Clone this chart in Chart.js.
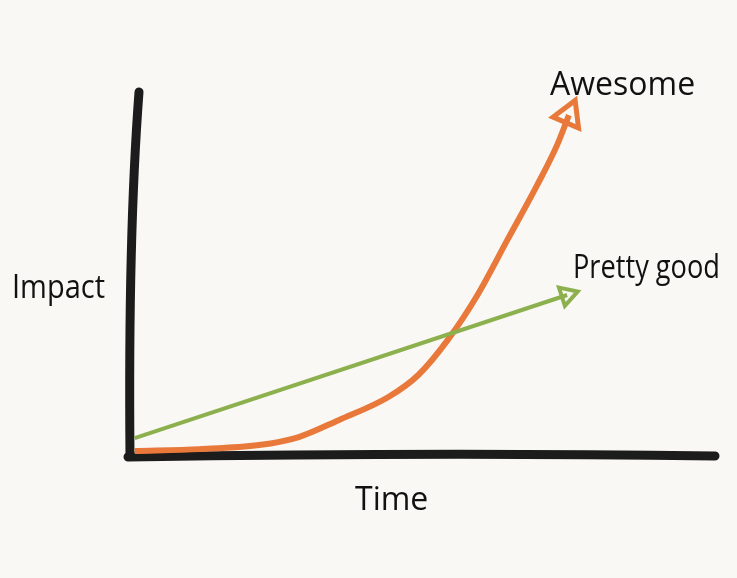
<!DOCTYPE html>
<html>
<head>
<meta charset="utf-8">
<script src="https://cdn.jsdelivr.net/npm/chart.js@4"></script>
<style>
  html, body { margin: 0; padding: 0; background: #f9f8f4; }
  #wrap { width: 737px; height: 578px; position: relative; }
</style>
</head>
<body>
<div id="wrap"><canvas id="c" width="737" height="578"></canvas></div>
<script>
// Data (normalized 0-100 on both axes)
const awesomeX = [0.8, 11.9, 22.0, 28.8, 35.6, 44.1, 49.2, 54.2, 59.3, 64.4, 69.5, 72.9, 74.9];
const awesomeY = [1.1, 1.6, 2.7, 4.9, 9.5, 15.8, 21.8, 31.3, 43.6, 58.6, 73.6, 84.5, 92.6];
const goodX = [0.8, 74.6];
const goodY = [4.6, 43.6];
const labels = { x: 'Time', y: 'Impact', awesome: 'Awesome', good: 'Pretty good' };

const toPts = (xs, ys) => xs.map((x, i) => ({ x: x, y: ys[i] }));
const lastOnly = (n, r) => Array.from({ length: n }, (_, i) => i === n - 1 ? r : 0);

const FONT = '"Open Sans", "Noto Sans", sans-serif';

const sketchPlugin = {
  id: 'sketch',
  beforeDatasetsDraw(chart) {
    const { ctx, chartArea: a } = chart;
    ctx.save();
    ctx.strokeStyle = '#1c1c1c';
    ctx.lineCap = 'round';
    ctx.lineWidth = 9;
    // y axis
    ctx.beginPath();
    ctx.moveTo(a.left + 9, a.top + 4);
    ctx.quadraticCurveTo(a.left - 2, a.top + 150, a.left, a.bottom + 1);
    ctx.stroke();
    // x axis
    ctx.beginPath();
    ctx.moveTo(a.left - 2, a.bottom + 2);
    ctx.quadraticCurveTo(a.left + 300, a.bottom - 3, a.right - 1, a.bottom + 1);
    ctx.stroke();
    ctx.restore();
  },
  afterDraw(chart) {
    const { ctx } = chart;
    ctx.save();
    ctx.fillStyle = '#111';
    ctx.font = '32px ' + FONT;
    ctx.textAlign = 'left';
    ctx.textBaseline = 'alphabetic';
    ctx.fillText(labels.y, 12, 298, 93);
    ctx.fillText(labels.x, 355, 510, 75);
    ctx.fillText(labels.awesome, 550, 95, 148);
    ctx.fillText(labels.good, 573, 278, 147);
    ctx.restore();
  }
};

new Chart(document.getElementById('c'), {
  type: 'line',
  data: {
    datasets: [
      {
        label: labels.good,
        data: toPts(goodX, goodY),
        borderColor: '#8cb04e',
        borderWidth: 4,
        pointRadius: lastOnly(goodX.length, 11),
        pointStyle: 'triangle',
        rotation: 72,
        pointBorderColor: '#8cb04e',
        pointBackgroundColor: 'rgba(0,0,0,0)',
        pointBorderWidth: 4,
        fill: false
      },
      {
        label: labels.awesome,
        data: toPts(awesomeX, awesomeY),
        borderColor: '#e8793a',
        borderWidth: 6,
        cubicInterpolationMode: 'monotone',
        pointRadius: lastOnly(awesomeX.length, 16),
        pointStyle: 'triangle',
        rotation: 23,
        pointBorderColor: '#e8793a',
        pointBackgroundColor: 'rgba(0,0,0,0)',
        pointBorderWidth: 5,
        fill: false
      }
    ]
  },
  options: {
    responsive: false,
    animation: false,
    layout: { padding: { left: 130, top: 88, right: 17, bottom: 123 } },
    plugins: { legend: { display: false }, tooltip: { enabled: false } },
    scales: {
      x: { type: 'linear', min: 0, max: 100, display: false },
      y: { type: 'linear', min: 0, max: 100, display: false }
    }
  },
  plugins: [sketchPlugin]
});
</script>
</body>
</html>
